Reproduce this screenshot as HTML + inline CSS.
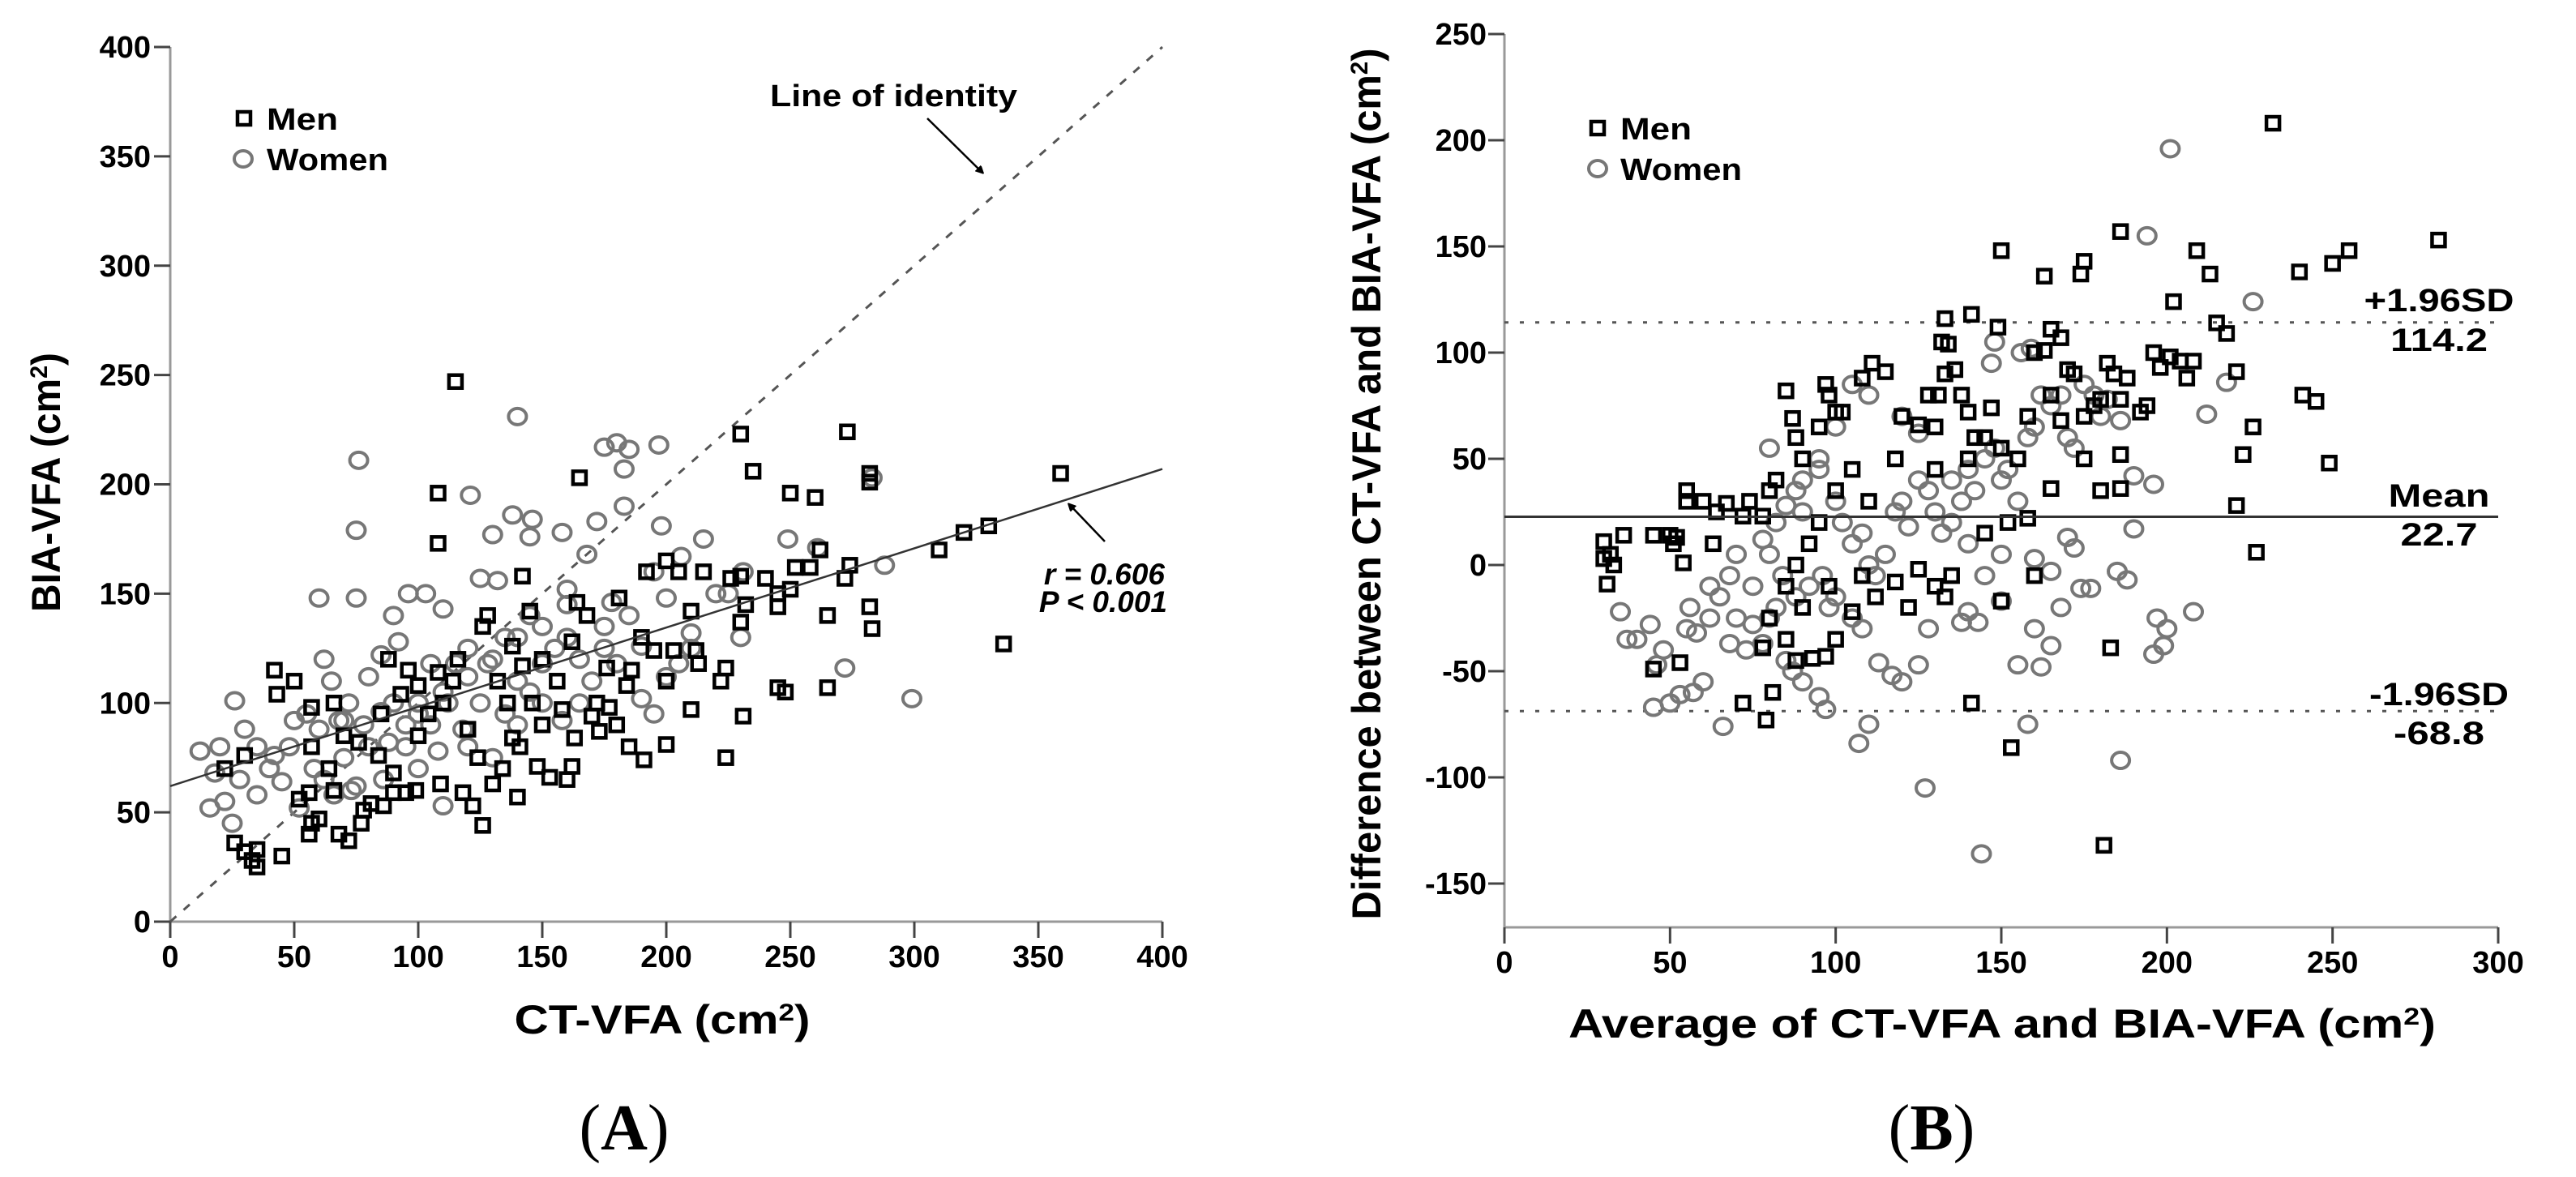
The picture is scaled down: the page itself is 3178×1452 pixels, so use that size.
<!DOCTYPE html>
<html><head><meta charset="utf-8"><style>
html,body{margin:0;padding:0;background:#fff}
svg{display:block}
text{font-family:"Liberation Sans",sans-serif;font-weight:bold;fill:#000}
text.serif{font-family:"Liberation Serif",serif}
</style></head><body>
<svg id="chart" width="3178" height="1452" viewBox="0 0 3178 1452" xmlns="http://www.w3.org/2000/svg">
<defs>
<marker id="ah" markerWidth="10" markerHeight="10" refX="8" refY="5" orient="auto" markerUnits="userSpaceOnUse"><path d="M0,0 L10,5 L0,10 z" fill="#000" transform="scale(1.6) translate(-3,-2)"/></marker>
</defs>
<g id="panelA"></g>
<g id="panelB"></g>
</svg>
<script>
// ---- Panel A data ----
const aXTicks = [0,50,100,150,200,250,300,350,400];
const aYTicks = [0,50,100,150,200,250,300,350,400];
const aMenX = [115,108,108,165,230,235,250,260,273,282,282,359,330,320,310,336,283,282,265,265,245,248,231,224,200,210,191,185,142,145,164,200,205,215,226,230,240,245,250,252,258,262,272,274,245,232,230,224,222,212,203,192,210,213,181,177,173,163,160,162,153,148,141,138,140,134,130,126,122,118,109,99,95,90,90,86,81,78,77,72,68,66,57,56,60,56,45,35,33,35,30,26,22,30,43,42,50,57,66,70,85,88,96,100,104,110,114,120,124,128,126,132,138,146,150,156,162,170,176,180,184,186,190,195,200,168,172,158,150,142,136,116,108,100,93,84,76,64,57,52];
const aMenY = [247,196,173,203,223,206,196,194,224,205,201,205,181,178,170,127,134,144,140,107,107,105,94,75,81,97,74,80,158,142,146,165,160,160,157,158,157,150,152,162,162,170,157,163,144,145,137,116,110,124,124,160,142,118,148,98,87,84,65,71,66,71,80,84,57,70,63,44,53,59,63,60,59,59,68,53,54,51,45,37,40,60,45,40,47,59,30,25,28,33,32,36,70,76,104,115,110,98,100,85,95,120,115,108,95,100,110,88,75,140,135,110,126,100,90,110,128,94,116,90,108,115,130,124,110,140,100,97,120,117,100,120,114,85,104,76,82,70,80,56];
const aWomX = [140,76,180,175,185,197,183,121,183,138,146,145,130,158,172,198,215,206,231,249,261,272,299,288,283,75,60,75,96,103,90,110,125,132,168,160,178,160,195,200,175,190,210,220,230,225,165,150,140,130,120,112,100,92,85,80,72,65,62,70,60,55,50,48,42,40,35,30,26,20,18,12,16,22,25,28,35,45,52,58,62,70,75,80,88,95,100,105,110,115,120,125,135,140,145,150,155,160,165,170,175,180,185,190,195,200,210,205,108,110,95,120,130,150,158,145,135,128,85,90,105,78,68,66,73,86,100,118,140];
const aWomY = [231,211,219,217,216,218,207,195,190,186,184,176,177,178,183,181,175,167,160,175,171,116,102,163,203,179,148,148,150,150,140,143,157,156,168,152,146,145,160,148,135,126,132,150,130,150,120,135,130,120,112,100,95,128,122,112,100,110,120,92,88,95,92,80,76,70,80,88,101,80,68,78,52,55,45,65,58,64,52,70,65,75,62,80,82,90,100,90,105,118,125,100,95,110,105,118,125,130,100,110,125,118,140,102,95,112,125,118,78,53,80,80,75,100,92,140,130,118,96,100,118,90,92,58,60,65,70,88,90];
const aRegIntercept = 62, aRegSlope = 0.3625;
// ---- Panel B data ----
const bXTicks = [0,50,100,150,200,250,300];
const bYTicks = [-150,-100,-50,0,50,100,150,200,250];
const bMean = 22.7, bUpper = 114.2, bLower = -68.8;
const bMenX = [232,186,150,175,174,163,209,213,202,240,250,255,282,141,133,149,165,168,215,218,221,241,245,226,223,249,221,227,186,183,181,153,141,150,133,130,122,72,79,81,78,85,93,97,45,53,30,30,32,33,31,36,45,50,51,52,54,55,55,60,63,64,67,72,74,78,80,82,85,87,88,90,95,97,98,100,102,108,111,115,120,125,128,130,131,132,134,133,136,138,140,142,145,147,150,158,160,163,165,168,170,172,175,178,180,182,184,186,188,192,194,196,198,201,204,206,208,175,186,180,165,155,140,130,118,110,105,100,95,92,88,85,80,90,98,105,108,112,118,125,135,145,152,158,160,100,88];
const bMenY = [208,157,148,143,137,136,148,137,124,138,142,148,153,118,116,112,111,107,114,109,91,80,77,65,52,48,28,6,36,-39,-132,-86,-65,-17,-15,-10,-20,-65,-73,-60,-39,-35,-44,-43,-49,-46,11,3,5,0,-9,14,14,14,10,13,1,35,30,30,10,25,29,23,30,23,35,40,82,69,60,50,65,85,80,72,72,88,95,91,70,66,80,65,80,105,104,90,92,80,72,60,60,74,55,70,100,101,80,68,92,90,70,75,78,95,90,78,88,72,75,100,93,98,96,88,96,50,52,35,36,50,50,45,50,30,45,35,20,10,0,-10,-25,-20,-10,-22,-5,-15,-8,-2,-5,15,20,22,-5,-35,-45];
const bWomX = [201,194,226,218,212,186,190,196,190,170,172,185,188,165,160,174,177,168,150,160,165,155,162,197,200,199,196,208,186,158,144,127,140,143,138,128,125,120,117,113,110,107,97,95,85,87,90,78,73,68,66,60,57,53,50,45,46,48,40,35,37,44,55,58,56,62,65,68,70,75,80,82,84,80,78,82,85,88,90,95,80,100,102,105,108,110,112,115,118,120,122,125,128,130,132,135,138,140,142,145,148,150,152,155,158,160,162,165,168,170,172,175,178,180,182,156,159,148,147,125,120,105,110,100,95,90,92,98,100,105,108,96,88,75,70,62,140,145,150,135];
const bWomY = [196,155,124,86,71,68,42,38,17,13,8,-3,-7,-3,3,-11,-11,-20,-17,-30,-38,-47,-48,-25,-30,-38,-42,-22,-92,-75,-136,-105,-22,-27,-27,-30,-47,-55,-52,-46,-75,-84,-68,-62,-45,-50,-55,-37,-40,-37,-76,-55,-60,-61,-65,-67,-47,-40,-35,-22,-35,-28,-30,-32,-20,-10,-15,-5,-25,-28,-25,-20,-5,5,12,20,28,35,40,45,55,30,20,10,15,0,-5,5,25,30,18,40,35,25,15,40,30,45,35,50,55,40,45,30,60,65,80,75,80,60,55,85,80,70,78,100,102,105,95,62,70,85,80,65,50,25,-10,-20,-15,-25,-30,-5,-15,-10,5,-25,10,-5,5,20];

const NS = "http://www.w3.org/2000/svg";
function mk(parent, tag, attrs, txt){
  const e = document.createElementNS(NS, tag);
  for (const k in attrs) e.setAttribute(k, attrs[k]);
  if (txt !== undefined) e.textContent = txt;
  parent.appendChild(e);
  return e;
}
function sup(t, base, s){ mk(t,'tspan',{},base); mk(t,'tspan',{'baseline-shift':'super','font-size':s},'2'); mk(t,'tspan',{},')'); }
const SG = 'spacingAndGlyphs';

// ========== Panel A ==========
(function(){
  const g = document.getElementById('panelA');
  const X0=210, X1=1434, Y0=1137, Y1=58;
  const sx = v => X0 + (v/400)*(X1-X0);
  const sy = v => Y0 - (v/400)*(Y0-Y1);
  const ax = mk(g,'line',{x1:X0,y1:Y0,x2:X1,y2:Y0,stroke:'#999','stroke-width':3});
   
  const ay = mk(g,'line',{x1:X0,y1:Y0,x2:X0,y2:Y1,stroke:'#999','stroke-width':3});
   
  aXTicks.forEach(v=>{
    mk(g,'line',{x1:sx(v),y1:Y0,x2:sx(v),y2:Y0+20,stroke:'#444','stroke-width':3});
    const t = mk(g,'text',{x:sx(v),y:1193,'font-size':38,'text-anchor':'middle'},v);
     
  });
  aYTicks.forEach(v=>{
    mk(g,'line',{x1:X0-20,y1:sy(v),x2:X0,y2:sy(v),stroke:'#444','stroke-width':3});
    const t = mk(g,'text',{x:186,y:sy(v)+13,'font-size':38,'text-anchor':'end'},v);
     
  });
  const id = mk(g,'line',{x1:sx(0),y1:sy(0),x2:sx(400),y2:sy(400),stroke:'#555','stroke-width':3,'stroke-dasharray':'10,12'});
   
  aWomX.forEach((v,i)=>{
    const c = mk(g,'ellipse',{cx:sx(v),cy:sy(aWomY[i]),rx:11,ry:10,fill:'none',stroke:'#777','stroke-width':4});
     
  });
  aMenX.forEach((v,i)=>{
    const r = mk(g,'rect',{x:sx(v)-8,y:sy(aMenY[i])-8,width:16,height:16,fill:'none',stroke:'#000','stroke-width':4.5});
     
  });
  const rl = mk(g,'line',{x1:sx(0),y1:sy(aRegIntercept),x2:sx(400),y2:sy(aRegIntercept+aRegSlope*400),stroke:'#333','stroke-width':2.5});
   
  const lm = mk(g,'rect',{x:293,y:138,width:16,height:16,fill:'none',stroke:'#000','stroke-width':4.5});
   
  const lt = mk(g,'text',{x:329,y:160,'font-size':38,textLength:88,lengthAdjust:SG},'Men');
   
  const lw = mk(g,'ellipse',{cx:300,cy:196,rx:11,ry:10,fill:'none',stroke:'#777','stroke-width':4});
   
  const lwt = mk(g,'text',{x:329,y:210,'font-size':38,textLength:150,lengthAdjust:SG},'Women');
   
  const loi = mk(g,'text',{x:950,y:131,'font-size':38,textLength:305,lengthAdjust:SG},'Line of identity');
   
  mk(g,'line',{x1:1144,y1:146,x2:1212,y2:213,stroke:'#000','stroke-width':2.5,'marker-end':'url(#ah)'});
  const r1 = mk(g,'text',{x:1437,y:721,'font-size':37,'text-anchor':'end','font-style':'italic'},'r = 0.606');
   
  const r2 = mk(g,'text',{x:1440,y:755,'font-size':37,'text-anchor':'end','font-style':'italic'},'P < 0.001');
   
  mk(g,'line',{x1:1363,y1:668,x2:1319,y2:622,stroke:'#000','stroke-width':2.5,'marker-end':'url(#ah)'});
  const xt = mk(g,'text',{x:817,y:1275,'font-size':50,'text-anchor':'middle',textLength:365,lengthAdjust:SG});
  sup(xt,'CT-VFA (cm',30);
   
  const yt = mk(g,'text',{x:0,y:0,'font-size':50,'text-anchor':'middle',textLength:320,lengthAdjust:SG,transform:'translate(74,595) rotate(-90)'});
  sup(yt,'BIA-VFA (cm',30);
   
  const pl = mk(g,'text',{x:770,y:1418,'font-size':80,'text-anchor':'middle','class':'serif'});
  mk(pl,'tspan',{'font-weight':'normal'},'(');mk(pl,'tspan',{},'A');mk(pl,'tspan',{'font-weight':'normal'},')');
   
})();

// ========== Panel B ==========
(function(){
  const g = document.getElementById('panelB');
  const X0=1856, X1=3082, Yb=1144;
  const sx = v => X0 + (v/300)*(X1-X0);
  const sy = v => 697 - v*2.62;
  const ax = mk(g,'line',{x1:X0,y1:Yb,x2:X1,y2:Yb,stroke:'#999','stroke-width':3});
   
  const ay = mk(g,'line',{x1:X0,y1:Yb,x2:X0,y2:sy(250),stroke:'#999','stroke-width':3});
   
  bXTicks.forEach(v=>{
    mk(g,'line',{x1:sx(v),y1:Yb,x2:sx(v),y2:Yb+20,stroke:'#444','stroke-width':3});
    const t = mk(g,'text',{x:sx(v),y:1200,'font-size':38,'text-anchor':'middle'},v);
     
  });
  bYTicks.forEach(v=>{
    mk(g,'line',{x1:X0-20,y1:sy(v),x2:X0,y2:sy(v),stroke:'#444','stroke-width':3});
    const t = mk(g,'text',{x:1834,y:sy(v)+13,'font-size':38,'text-anchor':'end'},v);
     
  });
  const up = mk(g,'line',{x1:X0,y1:sy(bUpper),x2:X1,y2:sy(bUpper),stroke:'#555','stroke-width':3,'stroke-dasharray':'5,14'});
   
  const lo = mk(g,'line',{x1:X0,y1:sy(bLower),x2:X1,y2:sy(bLower),stroke:'#555','stroke-width':3,'stroke-dasharray':'5,14'});
   
  bWomX.forEach((v,i)=>{
    const c = mk(g,'ellipse',{cx:sx(v),cy:sy(bWomY[i]),rx:11,ry:10,fill:'none',stroke:'#777','stroke-width':4});
     
  });
  bMenX.forEach((v,i)=>{
    const r = mk(g,'rect',{x:sx(v)-8,y:sy(bMenY[i])-8,width:16,height:16,fill:'none',stroke:'#000','stroke-width':4.5});
     
  });
  const ml = mk(g,'line',{x1:X0,y1:sy(bMean),x2:X1,y2:sy(bMean),stroke:'#333','stroke-width':3});
   
  const labs = [['+1.96SD',370,'upper-sd-label',185],[bUpper.toFixed(1),419,'upper-value-label',120],['Mean',611,'mean-label',125],[bMean.toFixed(1),659,'mean-value-label',95],['-1.96SD',856,'lower-sd-label',172],[bLower.toFixed(1),904,'lower-value-label',112]];
  labs.forEach(l=>{
    const t = mk(g,'text',{x:3009,y:l[1]+14,'font-size':40,'text-anchor':'middle',textLength:l[3],lengthAdjust:SG},l[0]);
     
  });
  const lm = mk(g,'rect',{x:1963,y:150,width:16,height:16,fill:'none',stroke:'#000','stroke-width':4.5});
   
  const lt = mk(g,'text',{x:1999,y:172,'font-size':38,textLength:88,lengthAdjust:SG},'Men');
   
  const lw = mk(g,'ellipse',{cx:1971,cy:208,rx:11,ry:10,fill:'none',stroke:'#777','stroke-width':4});
   
  const lwt = mk(g,'text',{x:1999,y:222,'font-size':38,textLength:150,lengthAdjust:SG},'Women');
   
  const xt = mk(g,'text',{x:2470,y:1280,'font-size':50,'text-anchor':'middle',textLength:1070,lengthAdjust:SG});
  sup(xt,'Average of CT-VFA and BIA-VFA (cm',30);
   
  const yt = mk(g,'text',{x:0,y:0,'font-size':50,'text-anchor':'middle',textLength:1075,lengthAdjust:SG,transform:'translate(1703,597) rotate(-90)'});
  sup(yt,'Difference between CT-VFA and BIA-VFA (cm',30);
   
  const pl = mk(g,'text',{x:2383,y:1418,'font-size':80,'text-anchor':'middle','class':'serif'});
  mk(pl,'tspan',{'font-weight':'normal'},'(');mk(pl,'tspan',{},'B');mk(pl,'tspan',{'font-weight':'normal'},')');
   
})();
</script>
</body></html>
